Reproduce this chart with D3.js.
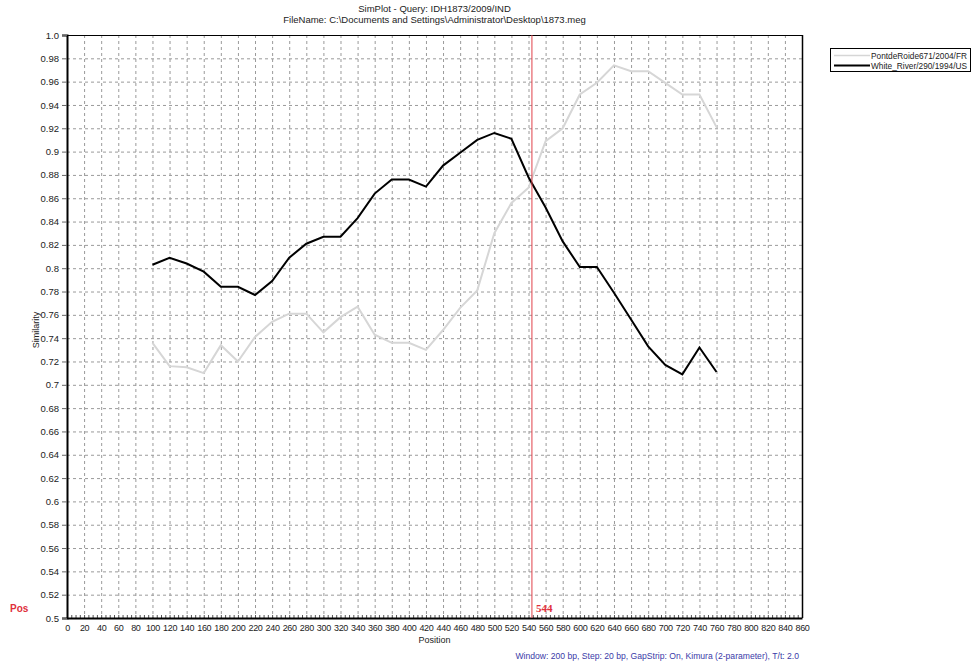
<!DOCTYPE html>
<html><head><meta charset="utf-8">
<script src="https://cdn.jsdelivr.net/npm/d3@7"></script>
<style>
html,body{margin:0;padding:0;background:#fff;}
svg{display:block;font-family:"Liberation Sans",Arial,sans-serif;}
</style></head>
<body><svg id="chart" width="972" height="662"></svg>
<script>
const positions = [100,120,140,160,180,200,220,240,260,280,300,320,340,360,380,400,420,440,460,480,500,520,540,560,580,600,620,640,660,680,700,720,740,760];
const pontdeRoide = [0.736,0.716,0.715,0.710,0.734,0.720,0.741,0.754,0.761,0.761,0.745,0.758,0.767,0.743,0.736,0.736,0.730,0.747,0.766,0.781,0.830,0.856,0.869,0.909,0.920,0.949,0.959,0.974,0.969,0.969,0.959,0.949,0.949,0.921];
const whiteRiver = [0.803,0.809,0.804,0.797,0.784,0.784,0.777,0.789,0.809,0.821,0.827,0.827,0.843,0.864,0.876,0.876,0.870,0.888,0.899,0.910,0.916,0.911,0.878,0.852,0.823,0.801,0.801,0.779,0.756,0.733,0.717,0.709,0.732,0.711];
const seriesNames = ["PontdeRoide671/2004/FR","White_River/290/1994/US"];
const xTicks = d3.range(0, 861, 20);
const yTicks = d3.range(0, 26).map(i => +(0.5 + i*0.02).toFixed(2));
const yTickLabels = yTicks.map(v => v === 1 ? "1.0" : String(v));
const markerPos = 544;
const titleLines = ["SimPlot - Query: IDH1873/2009/IND","FileName: C:\\Documents and Settings\\Administrator\\Desktop\\1873.meg"];
const footer = "Window: 200 bp, Step: 20 bp, GapStrip: On, Kimura (2-parameter), T/t: 2.0";

const svg = d3.select("#chart");
const L = 67, R = 802, T = 35, B = 618;
const x = d3.scaleLinear().domain([0, 860]).range([L, R]);
const y = d3.scaleLinear().domain([0.5, 1.0]).range([B, T]);

// grid
const g = svg.append("g");
g.selectAll("line.vg").data(xTicks.slice(1, -1)).join("line")
  .attr("x1", d => x(d)+0.5).attr("x2", d => x(d)+0.5).attr("y1", T).attr("y2", B)
  .attr("stroke", "#9a9a9a").attr("stroke-width", 1).attr("stroke-dasharray", "3,3");
g.selectAll("line.hg").data(yTicks.slice(1, -1)).join("line")
  .attr("y1", d => y(d)+0.5).attr("y2", d => y(d)+0.5).attr("x1", L).attr("x2", R)
  .attr("stroke", "#9a9a9a").attr("stroke-width", 1).attr("stroke-dasharray", "3,3");

// minor ticks on x axis
g.selectAll("line.mt").data(d3.range(0, 861, 5)).join("line")
  .attr("x1", d => x(d)+0.5).attr("x2", d => x(d)+0.5).attr("y1", B-3).attr("y2", B)
  .attr("stroke", "#555").attr("stroke-width", 1);

// frame
svg.append("line").attr("x1", L).attr("x2", R).attr("y1", T+0.5).attr("y2", T+0.5).attr("stroke", "#000");
svg.append("line").attr("x1", R+0.5).attr("x2", R+0.5).attr("y1", T).attr("y2", B).attr("stroke", "#000").attr("stroke-width", 1.5);

// y axis
const yAxis = d3.axisLeft(y).tickValues(yTicks).tickFormat((d, i) => yTickLabels[i]).tickSize(5).tickPadding(3);
const ya = svg.append("g").attr("transform", `translate(${L},0)`).call(yAxis);
ya.select(".domain").attr("stroke", "#000").attr("stroke-width", 2);
ya.selectAll(".tick line").attr("stroke", "#666");
ya.selectAll("text").attr("font-size", 9.5).attr("fill", "#222").attr("font-family", "Liberation Sans, Arial, sans-serif");

// x axis
const xAxis = d3.axisBottom(x).tickValues(xTicks).tickSize(0).tickPadding(7);
const xa = svg.append("g").attr("transform", `translate(0,${B})`).call(xAxis);
xa.select(".domain").attr("stroke", "#000").attr("stroke-width", 2);
xa.selectAll("text").attr("font-size", 9).attr("letter-spacing", -0.3).attr("fill", "#222")
  .attr("font-family", "Liberation Sans, Arial, sans-serif");

// lines
const line = d3.line().x(d => x(d[0])).y(d => y(d[1]));
svg.append("path").datum(positions.map((p, i) => [p, pontdeRoide[i]]))
  .attr("d", line).attr("fill", "none").attr("stroke", "#d6d6d6").attr("stroke-width", 2);
svg.append("path").datum(positions.map((p, i) => [p, whiteRiver[i]]))
  .attr("d", line).attr("fill", "none").attr("stroke", "#000").attr("stroke-width", 2);

// marker
svg.append("line").attr("x1", x(markerPos)).attr("x2", x(markerPos)).attr("y1", T).attr("y2", B)
  .attr("stroke", "#e0404a").attr("stroke-width", 1);
svg.append("text").attr("x", x(markerPos)+4).attr("y", 612).text(String(markerPos))
  .attr("font-family", "Liberation Serif, Times New Roman, serif").attr("font-weight", "bold")
  .attr("font-size", 11).attr("fill", "#e0303c");
svg.append("text").attr("x", 10).attr("y", 612).text("Pos")
  .attr("font-weight", "bold").attr("font-size", 10).attr("fill", "#e0303c");

// titles
svg.selectAll("text.title").data(titleLines).join("text")
  .attr("x", (L+R)/2).attr("y", (d, i) => 12 + i*11).attr("text-anchor", "middle")
  .attr("font-size", 9.5).attr("fill", "#222").text(d => d);

// axis titles
svg.append("text").attr("x", (L+R)/2).attr("y", 643).attr("text-anchor", "middle")
  .attr("font-size", 9).attr("fill", "#222").text("Position");
svg.append("text").attr("transform", "translate(39,330) rotate(-90)").attr("text-anchor", "middle")
  .attr("font-size", 9).attr("fill", "#222").text("Similarity");

// footer
svg.append("text").attr("x", 799).attr("y", 659).attr("text-anchor", "end")
  .attr("font-size", 8.6).attr("fill", "#3a3aa8").text(footer);

// legend
const lg = svg.append("g");
lg.append("rect").attr("x", 830.5).attr("y", 48.5).attr("width", 140).attr("height", 23)
  .attr("fill", "#fff").attr("stroke", "#000");
const legColors = ["#d6d6d6", "#000"];
seriesNames.forEach((n, i) => {
  lg.append("line").attr("x1", 834).attr("x2", 870).attr("y1", 55.5 + i*10).attr("y2", 55.5 + i*10)
    .attr("stroke", legColors[i]).attr("stroke-width", i ? 2 : 1.5);
  lg.append("text").attr("x", 871).attr("y", 59 + i*10).attr("font-size", 8.5)
    .attr("textLength", 96).attr("lengthAdjust", "spacingAndGlyphs").attr("fill", "#222").text(n);
});
</script></body></html>
